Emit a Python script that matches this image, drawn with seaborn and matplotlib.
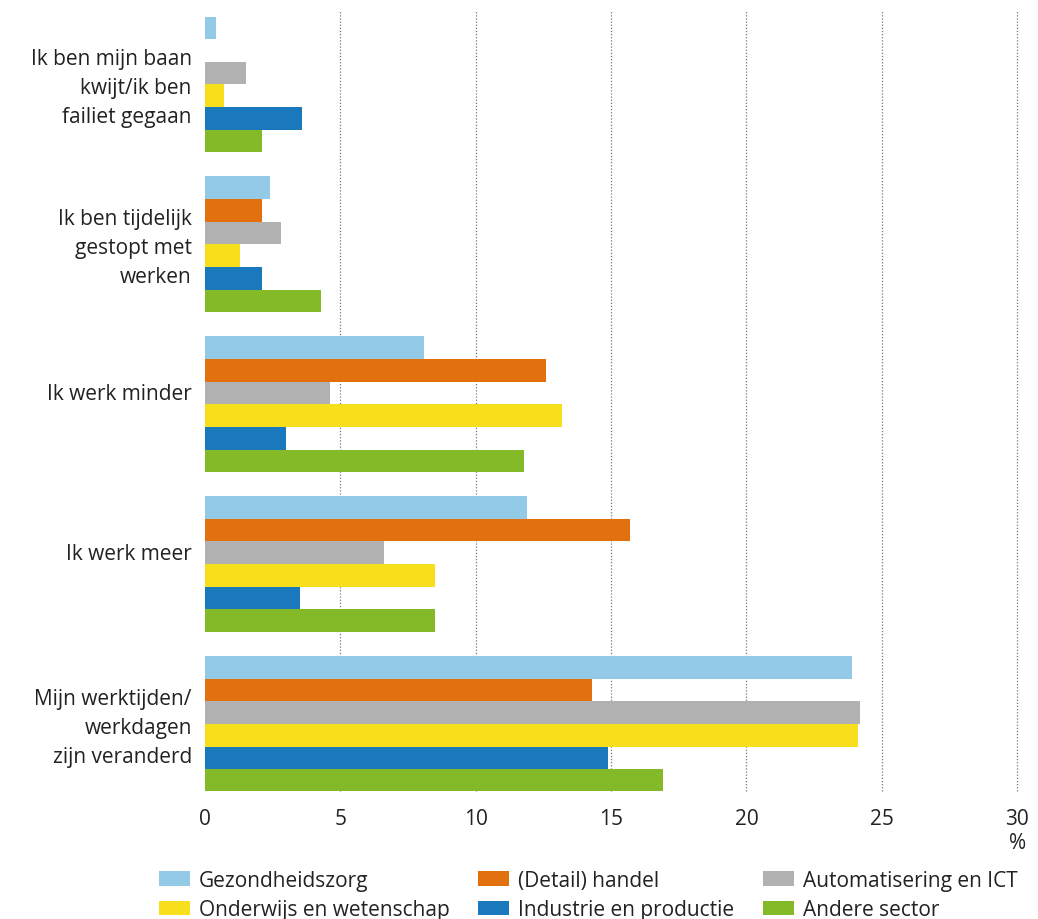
import pandas as pd
import matplotlib.pyplot as plt
import seaborn as sns
from matplotlib.patches import Patch
from matplotlib.transforms import ScaledTranslation

# answers (rows) and sectors (hue)
categories = ['Ik ben mijn baan\nkwijt/ik ben\nfailiet gegaan',
              'Ik ben tijdelijk\ngestopt met\nwerken',
              'Ik werk minder',
              'Ik werk meer',
              'Mijn werktijden/\nwerkdagen\nzijn veranderd']
sectors = ['Gezondheidszorg', '(Detail) handel', 'Automatisering en ICT',
           'Onderwijs en wetenschap', 'Industrie en productie', 'Andere sector']
colors = ['#93cae8', '#e2700e', '#b1b1b1', '#f7e01b', '#1a79bd', '#84ba28']

gezondheidszorg = [0.4, 2.4, 8.1, 11.9, 23.9]
handel = [0.0, 2.1, 12.6, 15.7, 14.3]
automatisering = [1.5, 2.8, 4.6, 6.6, 24.2]
onderwijs = [0.7, 1.3, 13.2, 8.5, 24.1]
industrie = [3.6, 2.1, 3.0, 3.5, 14.9]
andere = [2.1, 4.3, 11.8, 8.5, 16.9]
xticks = [0, 5, 10, 15, 20, 25, 30]

series = [gezondheidszorg, handel, automatisering, onderwijs, industrie, andere]
rows = []
for s, vals in zip(sectors, series):
    for c, v in zip(categories, vals):
        rows.append({'categorie': c, 'sector': s, 'procent': v})
df = pd.DataFrame(rows)

sns.set_style('white')
plt.rcParams['font.family'] = ['Open Sans', 'DejaVu Sans']

fig = plt.figure(figsize=(10.38, 9.2), dpi=100)
ax = fig.add_axes([0.1975, 0.139, 0.7825, 0.848])

sns.barplot(data=df, y='categorie', x='procent', hue='sector',
            order=categories, hue_order=sectors, palette=colors,
            orient='h', width=0.85, linewidth=0, saturation=1,
            legend=False, ax=ax)

ax.set_xlim(0, 30)
ax.set_ylim(4.42, -0.46)
ax.set_xticks(xticks)
ax.set_xticklabels([str(t) for t in xticks], fontsize=15, color='#222222')
ax.set_xlabel('')
ax.set_ylabel('')
ax.tick_params(axis='x', length=0, pad=12)
ax.tick_params(axis='y', length=0, pad=9.5)
for tick in ax.yaxis.get_major_ticks():
    lab = tick.label1
    lab.set_fontsize(15)
    lab.set_color('#222222')
    lab.set_linespacing(1.5)
    lab.set_multialignment('right')
    # single-line labels sit a little above the group centre in the original
    if '\n' not in lab.get_text():
        lab.set_transform(lab.get_transform() +
                          ScaledTranslation(0, 0.13, fig.dpi_scale_trans))
    else:
        lab.set_transform(lab.get_transform() +
                          ScaledTranslation(0, 0.03, fig.dpi_scale_trans))

ax.set_axisbelow(True)
ax.grid(axis='x', linestyle=(0, (1, 1.5)), color='#777777', linewidth=0.9)
ax.grid(axis='y', visible=False)
for sp in ax.spines.values():
    sp.set_visible(False)
gl = ax.xaxis.get_gridlines()
gl[0].set_visible(False)
for g in gl:
    g.set_clip_on(False)

ax.annotate('%', xy=(30, 0), xycoords=('data', 'axes fraction'),
            xytext=(0, -37), textcoords='offset points', ha='center',
            va='center', fontsize=15, color='#222222')

handles = [Patch(facecolor=c, edgecolor='none') for c in colors]
order = [0, 3, 1, 4, 2, 5]
fig.legend([handles[i] for i in order], [sectors[i] for i in order],
           ncol=3, loc='upper left', bbox_to_anchor=(0.1532, 0.0533),
           frameon=False, fontsize=15, handlelength=1.5, handleheight=0.72,
           handletextpad=0.43, columnspacing=1.35, labelspacing=0.4,
           borderaxespad=0, borderpad=0, labelcolor='#222222')

fig.savefig('out.png', dpi=100)
